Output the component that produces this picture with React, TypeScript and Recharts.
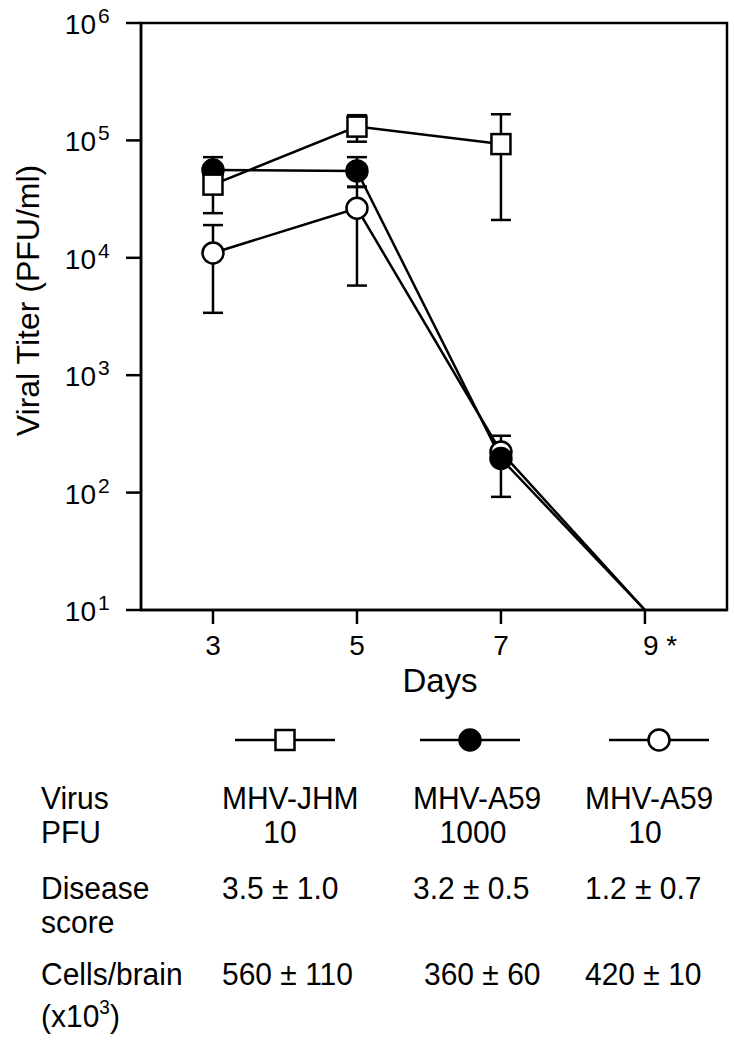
import React from 'react';
import { LineChart, Line, XAxis, YAxis, ErrorBar, ReferenceArea } from 'recharts';

// ---- data ----
const days = [3, 5, 7, 9];
const jhm10 = [4.2e4, 1.31e5, 9.3e4, null];
const jhm10Err = [[1.8e4, 1.8e4], [3.35e4, 3.3e4], [7.2e4, 7.4e4], null];
const a59High = [5.6e4, 5.5e4, 195, 10];
const a59HighErr = [[1.6e4, 1.6e4], [1.5e4, 1.7e4], [103, 110], null];
const a59Low = [1.1e4, 2.64e4, 222, 10];
const a59LowErr = [[7.6e3, 8e3], [2.06e4, 1.4e4], null, null];
const belowDetection = [9];
const xDomain = [2, 10.14];
const yDomain = [10, 1e6];
const yTicks = [10, 100, 1e3, 1e4, 1e5, 1e6];
const xTicks = [3, 5, 7, 9];
const xTickLabels = ['3', '5', '7', '9 *'];
const virusNames = ['MHV-JHM', 'MHV-A59', 'MHV-A59'];
const pfuDoses = ['10', '1000', '10'];
const diseaseScores = ['3.5 ± 1.0', '3.2 ± 0.5', '1.2 ± 0.7'];
const cellsPerBrain = ['560 ± 110', '360 ± 60', '420 ± 10'];
const markerShapes = ['square', 'filled', 'open'];

const FONT = '"Liberation Sans", Arial, Helvetica, sans-serif';
const SW = 2.5;

const data = days.map((d, i) => ({
  day: d,
  jhm: jhm10[i] ?? undefined,
  jhmErr: jhm10Err[i] ?? undefined,
  hi: a59High[i],
  hiErr: a59HighErr[i] ?? undefined,
  lo: a59Low[i],
  loErr: a59LowErr[i] ?? undefined,
}));

const Marker = ({ shape, cx, cy }: { shape: string; cx: number; cy: number }) => {
  if (shape === 'square') {
    return <rect x={cx - 9.5} y={cy - 10} width={19} height={20} fill="#fff" stroke="#000" strokeWidth={SW} />;
  }
  return <circle cx={cx} cy={cy} r={10.5} fill={shape === 'filled' ? '#000' : '#fff'} stroke="#000" strokeWidth={SW} />;
};

const makeDot = (shape: string) => (props: any) => {
  const { cx, cy, payload, index } = props;
  if (cx == null || cy == null || payload == null || belowDetection.includes(payload.day)) {
    return <g key={`e-${shape}-${index}`} />;
  }
  return (
    <g key={`d-${shape}-${index}`}>
      <Marker shape={shape} cx={cx} cy={cy} />
    </g>
  );
};

const YTick = (props: any) => {
  const { x, y, payload } = props;
  const exp = Math.round(Math.log10(payload.value));
  return (
    <g>
      <text x={x - 28} y={y + 11} textAnchor="end" fontSize={28} fontFamily={FONT} fill="#000">10</text>
      <text x={x - 26} y={y} textAnchor="start" fontSize={21} fontFamily={FONT} fill="#000">{exp}</text>
    </g>
  );
};

const XTick = (props: any) => {
  const { x, y, payload } = props;
  const idx = xTicks.indexOf(payload.value);
  const label = idx >= 0 ? xTickLabels[idx] : String(payload.value);
  const isStar = label.includes('*');
  return (
    <text
      x={isStar ? x - 2 : x}
      y={y + 20}
      textAnchor={isStar ? 'start' : 'middle'}
      fontSize={28}
      fontFamily={FONT}
      fill="#000"
    >
      {label}
    </text>
  );
};

const axisStroke = { stroke: '#000', strokeWidth: SW };

const legendCenters = [285, 470, 659];
const colStarts = [222, 413, 585];
const pfuCenters = [280, 473, 645];
const cellOffsets = [0, 11, 0];

const TText = ({ x, y, children, anchor }: any) => (
  <text transform={`translate(${x},${y}) scale(1,1.07)`} textAnchor={anchor || 'start'}>
    {children}
  </text>
);

export default function App() {
  return (
    <div style={{ position: 'absolute', left: 0, top: 0, width: 734, height: 1043, background: '#fff' }}>
      <LineChart width={734} height={700} data={data} margin={{ top: 23, right: 7, left: 0, bottom: 0 }}>
        <XAxis
          dataKey="day"
          type="number"
          domain={xDomain}
          ticks={xTicks}
          interval={0}
          height={90}
          tickSize={14}
          tickMargin={11}
          axisLine={axisStroke}
          tickLine={axisStroke}
          tick={<XTick />}
          label={{
            content: (p: any) => (
              <text
                x={p.viewBox.x + p.viewBox.width / 2 + 6}
                y={p.viewBox.y + 82}
                textAnchor="middle"
                fontSize={33}
                fontFamily={FONT}
                fill="#000"
              >
                Days
              </text>
            ),
          }}
        />
        <YAxis
          type="number"
          scale="log"
          domain={yDomain}
          allowDataOverflow
          ticks={yTicks}
          interval={0}
          width={141}
          tickSize={15}
          tickMargin={2}
          axisLine={axisStroke}
          tickLine={axisStroke}
          tick={<YTick />}
          label={{
            content: (p: any) => {
              const cx = p.viewBox.x + 28;
              const cy = p.viewBox.y + p.viewBox.height / 2 - 16;
              return (
                <text
                  x={cx}
                  y={cy}
                  transform={`rotate(-90, ${cx}, ${cy})`}
                  textAnchor="middle"
                  dominantBaseline="central"
                  fontSize={32}
                  fontFamily={FONT}
                  fill="#000"
                >
                  Viral Titer (PFU/ml)
                </text>
              );
            },
          }}
        />
        <ReferenceArea
          x1={xDomain[0]}
          x2={xDomain[1]}
          y1={yDomain[0]}
          y2={yDomain[1]}
          fill="none"
          fillOpacity={0}
          stroke="#000"
          strokeWidth={SW}
          ifOverflow="visible"
        />
        <Line dataKey="lo" type="linear" stroke="#000" strokeWidth={SW} dot={makeDot('open')} activeDot={false} isAnimationActive={false}>
          <ErrorBar dataKey="loErr" direction="y" width={10} stroke="#000" strokeWidth={SW} />
        </Line>
        <Line dataKey="hi" type="linear" stroke="#000" strokeWidth={SW} dot={makeDot('filled')} activeDot={false} isAnimationActive={false}>
          <ErrorBar dataKey="hiErr" direction="y" width={10} stroke="#000" strokeWidth={SW} />
        </Line>
        <Line dataKey="jhm" type="linear" stroke="#000" strokeWidth={SW} dot={makeDot('square')} activeDot={false} isAnimationActive={false}>
          <ErrorBar dataKey="jhmErr" direction="y" width={10} stroke="#000" strokeWidth={SW} />
        </Line>
      </LineChart>
      <svg width={734} height={1043} style={{ position: 'absolute', left: 0, top: 0, pointerEvents: 'none' }}>
        {legendCenters.map((c, i) => (
          <g key={`leg-${i}`}>
            <line x1={c - 50} x2={c + 50} y1={740} y2={740} stroke="#000" strokeWidth={SW} />
            <Marker shape={markerShapes[i]} cx={c} cy={740} />
          </g>
        ))}
        <g fontFamily={FONT} fontSize={30} fill="#000">
          <TText x={41} y={809}>Virus</TText>
          <TText x={41} y={843}>PFU</TText>
          <TText x={41} y={899}>Disease</TText>
          <TText x={41} y={933}>score</TText>
          <TText x={41} y={985}>Cells/brain</TText>
          <TText x={41} y={1027}>
            (x10<tspan dy={-12} fontSize={19}>3</tspan><tspan dy={12}>)</tspan>
          </TText>
          {virusNames.map((v, i) => (
            <TText key={`v-${i}`} x={colStarts[i]} y={809}>{v}</TText>
          ))}
          {pfuDoses.map((v, i) => (
            <TText key={`p-${i}`} x={pfuCenters[i]} y={843} anchor="middle">{v}</TText>
          ))}
          {diseaseScores.map((v, i) => (
            <TText key={`d-${i}`} x={colStarts[i]} y={899}>{v}</TText>
          ))}
          {cellsPerBrain.map((v, i) => (
            <TText key={`c-${i}`} x={colStarts[i] + cellOffsets[i]} y={985}>{v}</TText>
          ))}
        </g>
      </svg>
    </div>
  );
}
